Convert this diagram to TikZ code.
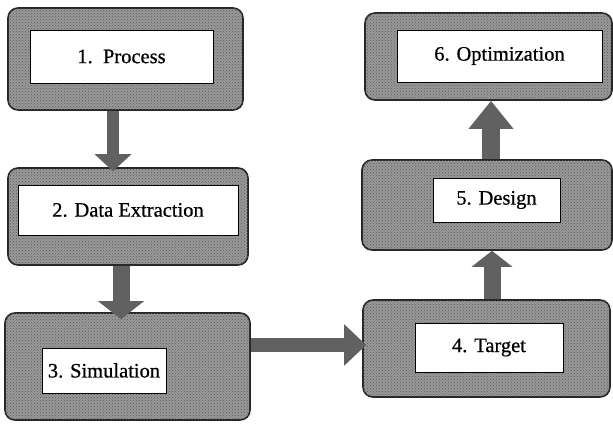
\documentclass[tikz,border=0pt]{standalone}
\usepackage{fontspec}
\setmainfont{Liberation Serif}
\newfontfamily\boxfont[FakeBold=0.7]{Liberation Serif}
\usetikzlibrary{arrows.meta,patterns}
\begin{document}
\begin{tikzpicture}[x=1pt,y=-1pt,
  outerbox/.style={draw=black!85, line width=1.6pt, rounded corners=10pt, fill=black!40,
    postaction={pattern=crosshatch dots, pattern color=black!65}, inner sep=0pt},
  innerbox/.style={draw=black, line width=0.9pt, fill=white, inner sep=0pt,
    font=\boxfont\fontsize{20.5}{24}\selectfont},
  blk/.style={draw=black!62, line width=#1},
]
\useasboundingbox (0,0) rectangle (613,423);

% outer boxes
\node[outerbox, minimum width=235pt, minimum height=102pt] (o1) at (125.5,59) {};
\node[outerbox, minimum width=240pt, minimum height=97pt]  (o2) at (128,216.5) {};
\node[outerbox, minimum width=245pt, minimum height=107pt] (o3) at (127.5,366.5) {};
\node[outerbox, minimum width=247pt, minimum height=97pt]  (o4) at (486.5,348.5) {};
\node[outerbox, minimum width=250pt, minimum height=90pt]  (o5) at (487,205) {};
\node[outerbox, minimum width=247pt, minimum height=87pt]  (o6) at (488.5,56.5) {};

% inner text boxes
\node[innerbox, minimum width=183pt, minimum height=53pt] (b1) at (121.5,56.5) {1.\ \ Process};
\node[innerbox, minimum width=220pt, minimum height=50pt] (b2) at (128,210) {2. Data Extraction};
\node[innerbox, minimum width=124pt, minimum height=45pt] (b3) at (104,370.5) {3. Simulation};
\node[innerbox, minimum width=148pt, minimum height=49pt] (b4) at (489,347.5) {4. Target};
\node[innerbox, minimum width=127pt, minimum height=44pt] (b5) at (496.5,200) {5. Design};
\node[innerbox, minimum width=205pt, minimum height=52pt] (b6) at (499.5,56) {6. Optimization};

% block arrows
\draw[blk=12pt, -{Triangle[length=17pt,width=36pt]}, shorten >=-4pt]
  ([xshift=-12.5pt]o1.south) -- ([xshift=-12.5pt]o1.south |- o2.north);
\draw[blk=17pt, -{Triangle[length=18pt,width=45pt]}, shorten >=-7pt]
  ([xshift=-7pt]o2.south) -- ([xshift=-7pt]o2.south |- o3.north);
\draw[blk=14pt, -{Triangle[length=22pt,width=40pt]}, shorten >=-4pt]
  ([yshift=3.5pt]o3.east |- o4.west) -- ([yshift=3.5pt]o4.west);
\draw[blk=17pt, -{Triangle[length=16pt,width=40pt]}]
  ([xshift=5.5pt]o4.north) -- ([xshift=5.5pt]o4.north |- o5.south);
\draw[blk=18pt, -{Triangle[length=28pt,width=43pt]}]
  ([xshift=4pt]o5.north) -- ([xshift=4pt]o5.north |- o6.south);
\end{tikzpicture}
\end{document}
